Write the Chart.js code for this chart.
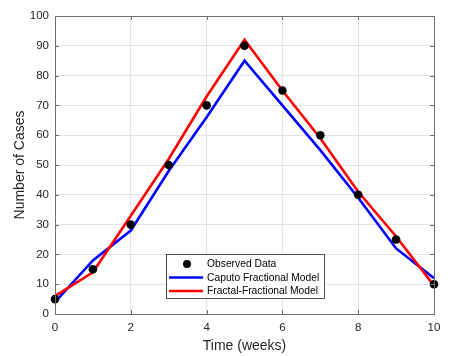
<!DOCTYPE html>
<html>
<head>
<meta charset="utf-8">
<script src="https://cdn.jsdelivr.net/npm/chart.js@4/dist/chart.umd.min.js"></script>
<style>
    html, body { margin: 0; padding: 0; background: #ffffff; }
    #wrap { width: 458px; height: 356px; }
</style>
</head>
<body>
<div id="wrap"><canvas id="casesChart" width="458" height="356"></canvas></div>
<script>
// Chart data
const weeks = [0, 1, 2, 3, 4, 5, 6, 7, 8, 9, 10];
const observed = [5, 15, 30, 50, 70, 90, 75, 60, 40, 25, 10];
const caputo = [4, 18, 28, 48, 66, 85, 70, 55, 39, 22, 12];
const fractal = [6, 14, 33, 52, 73, 92, 75, 59, 41, 26, 9.5];
const seriesNames = ['Observed Data', 'Caputo Fractional Model', 'Fractal-Fractional Model'];
const seriesColors = ['#000000', '#0000ff', '#ff0000'];

const FONT = "'Liberation Sans', Arial, Helvetica, sans-serif";
const AXIS_COLOR = '#262626';

const toPoints = values => weeks.map((w, i) => ({ x: w, y: values[i] }));

// Box around the axes + small inward ticks on all four sides
const boxPlugin = {
    id: 'axesBox',
    afterDatasetsDraw(chart) {
        const { ctx, chartArea: a, scales } = chart;
        ctx.save();
        ctx.strokeStyle = '#6e6e6e';
        ctx.lineWidth = 1;
        ctx.beginPath();
        scales.x.ticks.forEach(t => {
            const px = Math.round(scales.x.getPixelForValue(t.value)) + 0.5;
            ctx.moveTo(px, a.bottom); ctx.lineTo(px, a.bottom - 4);
            ctx.moveTo(px, a.top); ctx.lineTo(px, a.top + 4);
        });
        scales.y.ticks.forEach(t => {
            const py = Math.round(scales.y.getPixelForValue(t.value)) + 0.5;
            ctx.moveTo(a.left, py); ctx.lineTo(a.left + 4, py);
            ctx.moveTo(a.right, py); ctx.lineTo(a.right - 4, py);
        });
        ctx.stroke();
        ctx.strokeRect(Math.round(a.left) + 0.5, Math.round(a.top) + 0.5,
            Math.round(a.right - a.left), Math.round(a.bottom - a.top));
        ctx.restore();
    }
};

// MATLAB-style legend box inside the plot
const legendPlugin = {
    id: 'boxLegend',
    afterDraw(chart) {
        const { ctx, chartArea: a } = chart;
        const x0 = a.left + 111, y0 = a.bottom - 60;
        const w = 158, h = 44;
        ctx.save();
        ctx.fillStyle = '#ffffff';
        ctx.fillRect(x0, y0, w, h);
        ctx.strokeStyle = '#262626';
        ctx.lineWidth = 0.8;
        ctx.strokeRect(x0 + 0.5, y0 + 0.5, w, h);
        ctx.font = '10.3px ' + FONT;
        ctx.textBaseline = 'middle';
        seriesNames.forEach((name, i) => {
            const y = y0 + 10 + i * 13.5;
            if (i === 0) {
                ctx.fillStyle = seriesColors[0];
                ctx.beginPath();
                ctx.arc(x0 + 21, y, 4, 0, Math.PI * 2);
                ctx.fill();
            } else {
                ctx.strokeStyle = seriesColors[i];
                ctx.lineWidth = 2.5;
                ctx.beginPath();
                ctx.moveTo(x0 + 3, y);
                ctx.lineTo(x0 + 37, y);
                ctx.stroke();
            }
            ctx.fillStyle = '#000000';
            ctx.fillText(name, x0 + 41, y + 0.5);
        });
        ctx.restore();
    }
};

new Chart(document.getElementById('casesChart'), {
    type: 'line',
    data: {
        datasets: [
            {
                label: seriesNames[0],
                data: toPoints(observed),
                showLine: false,
                pointRadius: 4.3,
                pointBackgroundColor: seriesColors[0],
                pointBorderColor: seriesColors[0],
                pointBorderWidth: 0,
                clip: false,
                order: 0
            },
            {
                label: seriesNames[1],
                data: toPoints(caputo),
                borderColor: seriesColors[1],
                borderWidth: 2.6,
                pointRadius: 0,
                tension: 0,
                order: 2
            },
            {
                label: seriesNames[2],
                data: toPoints(fractal),
                borderColor: seriesColors[2],
                borderWidth: 2.6,
                pointRadius: 0,
                tension: 0,
                order: 1
            }
        ]
    },
    options: {
        responsive: false,
        animation: false,
        layout: { padding: { left: 0, top: 16, right: 24, bottom: 0 } },
        scales: {
            x: {
                type: 'linear',
                min: 0,
                max: 10,
                ticks: {
                    stepSize: 2,
                    padding: 7,
                    color: AXIS_COLOR,
                    font: { family: FONT, size: 11.5 }
                },
                grid: { color: '#e3e3e3', drawTicks: false },
                border: { display: false },
                title: {
                    display: true,
                    text: 'Time (weeks)',
                    color: AXIS_COLOR,
                    font: { family: FONT, size: 14 },
                    padding: { top: 2, bottom: 1 }
                },
                afterFit: scale => { scale.height = 42; }
            },
            y: {
                min: 0,
                max: 100,
                ticks: {
                    stepSize: 10,
                    padding: 6,
                    color: AXIS_COLOR,
                    font: { family: FONT, size: 11.5 }
                },
                grid: { color: '#e3e3e3', drawTicks: false },
                border: { display: false },
                title: {
                    display: true,
                    text: 'Number of Cases',
                    color: AXIS_COLOR,
                    font: { family: FONT, size: 14 },
                    padding: { top: 12, bottom: 2 }
                },
                afterFit: scale => { scale.width = 55; }
            }
        },
        plugins: {
            legend: { display: false },
            tooltip: { enabled: false }
        }
    },
    plugins: [boxPlugin, legendPlugin]
});
</script>
</body>
</html>
